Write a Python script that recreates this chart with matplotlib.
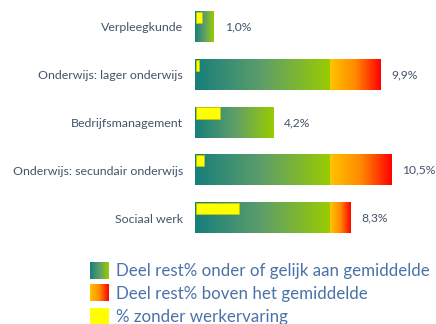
import numpy as np
import matplotlib
matplotlib.use("Agg")
import matplotlib.pyplot as plt
from matplotlib.colors import LinearSegmentedColormap
from matplotlib.patches import Rectangle

# Data
categories = ["Verpleegkunde", "Onderwijs: lager onderwijs", "Bedrijfsmanagement",
              "Onderwijs: secundair onderwijs", "Sociaal werk"]
rest_pct = [1.0, 9.9, 4.2, 10.5, 8.3]          # total rest% per programme
zonder_werkervaring = [0.3, 0.16, 1.3, 0.43, 2.3]  # % without work experience
gemiddelde = 7.2                                  # overall average rest%
legend_labels = ["Deel rest% onder of gelijk aan gemiddelde",
                 "Deel rest% boven het gemiddelde",
                 "% zonder werkervaring"]

plt.rcParams['font.family'] = ['Lato', 'DejaVu Sans']

green_cmap = LinearSegmentedColormap.from_list("groen", ["#177F7B", "#5E9E6A", "#99CC00"])
red_cmap = LinearSegmentedColormap.from_list("rood", ["#FFC400", "#FF8A00", "#FF0000"])
yellow = "#FFFF00"
label_color = "#44546A"
legend_color = "#4A72A8"

W, H = 436, 324
fig = plt.figure(figsize=(W / 100, H / 100), dpi=100)

px_per_unit = 18.7
ax_left, ax_right = 195, 436
ax_top, ax_bottom = 3, 242
ax = fig.add_axes([ax_left / W, 1 - ax_bottom / H, (ax_right - ax_left) / W, (ax_bottom - ax_top) / H])

grad = np.linspace(0, 1, 256).reshape(1, -1)
bar_h = 0.63
ys = np.arange(len(categories))
for y, v, z in zip(ys, rest_pct, zonder_werkervaring):
    top, bot = y - bar_h / 2, y + bar_h / 2
    low = min(v, gemiddelde)
    ax.imshow(grad, cmap=green_cmap, extent=(0, low, bot, top), aspect='auto', interpolation='bilinear')
    if v > gemiddelde:
        ax.imshow(grad, cmap=red_cmap, extent=(gemiddelde, v, bot, top), aspect='auto', interpolation='bilinear')
    ax.add_patch(Rectangle((0.05, top), z, bar_h * 0.37, facecolor=yellow,
                           edgecolor="#C8C800", linewidth=0.5))
    ax.annotate(f"{v:.1f}".replace('.', ',') + "%", xy=(v, y), xytext=(7.8, 0),
                textcoords='offset points', va='center', ha='left',
                fontsize=8.7, color=label_color, annotation_clip=False)

ax.set_xlim(0, (ax_right - ax_left) / px_per_unit)
ax.set_ylim(len(categories) - 0.5, -0.5)
ax.set_yticks(ys)
ax.set_yticklabels(categories, fontsize=8.9, color=label_color)
ax.tick_params(axis='y', length=0, pad=8.6)
ax.set_xticks([])
for s in ax.spines.values():
    s.set_visible(False)

# Legend with gradient swatches
swatch_rows = [(262, 279), (284, 301), (308, 325)]
text_baselines = [276, 298.5, 322]
swatch_maps = [green_cmap, red_cmap, None]
for (t, b), base, cmap, lab in zip(swatch_rows, text_baselines, swatch_maps, legend_labels):
    sax = fig.add_axes([90 / W, 1 - b / H, 19 / W, (b - t) / H])
    if cmap is not None:
        sax.imshow(grad, cmap=cmap, aspect='auto', interpolation='bilinear')
    else:
        sax.set_facecolor(yellow)
    sax.set_xticks([]); sax.set_yticks([])
    for s in sax.spines.values():
        s.set_visible(False)
    fig.text(116 / W, 1 - base / H, lab, fontsize=12.2, color=legend_color,
             va='baseline', ha='left')

fig.savefig("out.png", dpi=100)
